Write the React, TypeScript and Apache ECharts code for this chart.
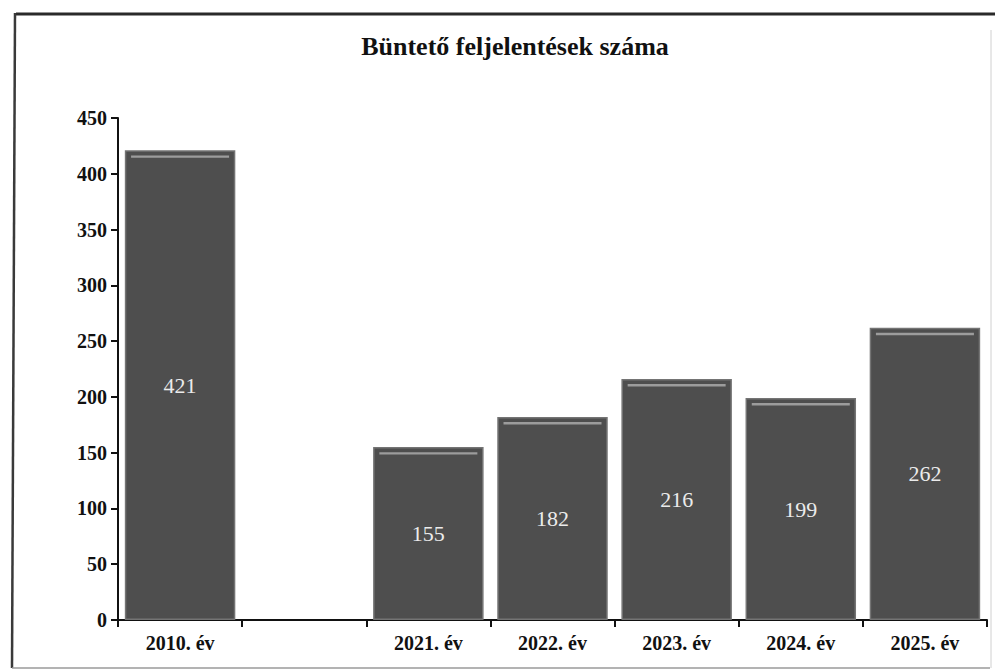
import React, { useEffect, useRef } from "react";
import * as echarts from "echarts";

const titleText = "Büntető feljelentések száma";
const categories = ["2010. év", "", "2021. év", "2022. év", "2023. év", "2024. év", "2025. év"];
const values: (number | null)[] = [421, null, 155, 182, 216, 199, 262];
const yMin = 0;
const yMax = 450;
const yStep = 50;

export default function App() {
  const ref = useRef<HTMLDivElement>(null);
  useEffect(() => {
    document.body.style.margin = "0";
    if (!ref.current) return;
    const chart = echarts.init(ref.current, null, { renderer: "svg" });
    const serif = "'Liberation Serif', 'Times New Roman', serif";
    const data = values.map((v) => (v === null ? "-" : v));
    chart.setOption({
      animation: false,
      backgroundColor: "#ffffff",
      title: {
        text: titleText,
        left: 510,
        textAlign: "center",
        top: 28,
        textStyle: { fontFamily: serif, fontWeight: "bold", fontSize: 26, color: "#111" },
      },
      grid: { left: 118, right: 8, top: 118, bottom: 51, containLabel: false, outerBoundsMode: "none" },
      xAxis: {
        type: "category",
        data: categories,
        boundaryGap: true,
        axisLine: { lineStyle: { color: "#111", width: 2 } },
        axisTick: { show: true, length: 7, inside: false, lineStyle: { color: "#111", width: 2 } },
        axisLabel: { fontFamily: serif, fontWeight: "bold", fontSize: 20, color: "#111", margin: 13, interval: 0 },
      },
      yAxis: {
        type: "value",
        min: yMin,
        max: yMax,
        interval: yStep,
        axisLine: { show: true, lineStyle: { color: "#111", width: 2 } },
        axisTick: { show: true, length: 7, lineStyle: { color: "#111", width: 2 } },
        splitLine: { show: false },
        axisLabel: { fontFamily: serif, fontWeight: "bold", fontSize: 20, color: "#111", margin: 11 },
      },
      series: [
        {
          type: "bar",
          data,
          barCategoryGap: "11%",
          itemStyle: { color: "#4e4e4e", borderColor: "#747474", borderWidth: 1.5 },
          label: {
            show: true,
            position: "inside",
            fontFamily: serif,
            fontSize: 22,
            color: "#ebebeb",
          },
          z: 2,
        },
        {
          type: "pictorialBar",
          data,
          barGap: "-100%",
          barCategoryGap: "11%",
          symbol: "rect",
          symbolSize: [98, 2.5],
          symbolPosition: "end",
          symbolOffset: [0, 5],
          itemStyle: { color: "#9c9c9c" },
          silent: true,
          z: 3,
        },
      ],
      graphic: [
        { type: "line", shape: { x1: 16, y1: 14, x2: 995, y2: 14 }, style: { stroke: "#2a2a2a", lineWidth: 3 } },
        { type: "line", shape: { x1: 15, y1: 13, x2: 12, y2: 668 }, style: { stroke: "#3a3a3a", lineWidth: 2.5 } },
        { type: "line", shape: { x1: 12, y1: 668, x2: 990, y2: 668 }, style: { stroke: "#9a9a9a", lineWidth: 1.5 } },
        { type: "line", shape: { x1: 991, y1: 30, x2: 991, y2: 668 }, style: { stroke: "#d0d0d0", lineWidth: 1 } },
      ],
    });
    return () => chart.dispose();
  }, []);
  return <div ref={ref} style={{ width: 995, height: 671 }} />;
}
